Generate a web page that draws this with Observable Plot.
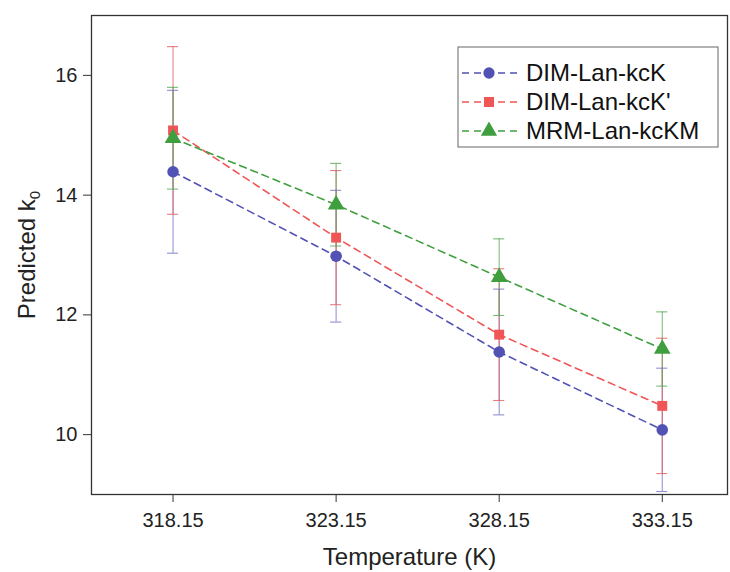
<!DOCTYPE html>
<html>
<head>
<meta charset="utf-8">
<script src="https://cdn.jsdelivr.net/npm/d3@7"></script>
<script src="https://cdn.jsdelivr.net/npm/@observablehq/plot@0.6"></script>
<style>
  html, body { margin: 0; padding: 0; background: #fff; }
  #chart { width: 730px; height: 572px; position: relative; }
</style>
</head>
<body>
<div id="chart"></div>
<script>
// ---- data ----
const temps = [318.15, 323.15, 328.15, 333.15];
const tickTemps = [318.15, 323.15, 328.15, 333.15];
const tickK = [10, 12, 14, 16];
const seriesNames = ["DIM-Lan-kcK", "DIM-Lan-kcK'", "MRM-Lan-kcKM"];
const dimK      = [14.39, 12.98, 11.38, 10.08];
const dimKErr   = [1.36, 1.10, 1.05, 1.03];
const dimKp     = [15.08, 13.29, 11.67, 10.48];
const dimKpErr  = [1.40, 1.12, 1.10, 1.13];
const mrm       = [14.95, 13.84, 12.63, 11.43];
const mrmErr    = [0.85, 0.69, 0.64, 0.62];

const seriesValues = [dimK, dimKp, mrm];
const seriesErrors = [dimKErr, dimKpErr, mrmErr];
const colors = ["#5252b4", "#f05656", "#3f9f3f"];
const errColors = ["#7272c4", "#e25c5c", "#55aa55"];

const rows = [];
seriesNames.forEach((s, i) => {
  temps.forEach((t, j) => {
    rows.push({series: s, idx: i, T: t, k: seriesValues[i][j], e: seriesErrors[i][j]});
  });
});

const capHalf = 0.17; // cap half-width in x units

const plot = Plot.plot({
  width: 730,
  height: 572,
  marginLeft: 91,
  marginRight: 3,
  marginTop: 15,
  marginBottom: 78,
  style: {fontFamily: "'Liberation Sans', Arial, sans-serif", fontSize: "20px", background: "#fff", color: "#222", overflow: "visible"},
  x: {domain: [315.65, 335.15]},
  y: {domain: [9, 17]},
  marks: [
    Plot.frame({stroke: "#333", strokeWidth: 1.3}),
    // error bars
    Plot.ruleX(rows, {x: "T", y1: d => d.k - d.e, y2: d => d.k + d.e, stroke: d => errColors[d.idx], strokeWidth: 1.1, strokeOpacity: 0.75}),
    Plot.ruleY(rows, {y: d => d.k + d.e, x1: d => d.T - capHalf, x2: d => d.T + capHalf, stroke: d => errColors[d.idx], strokeWidth: 1.1, strokeOpacity: 0.8}),
    Plot.ruleY(rows, {y: d => d.k - d.e, x1: d => d.T - capHalf, x2: d => d.T + capHalf, stroke: d => errColors[d.idx], strokeWidth: 1.1, strokeOpacity: 0.8}),
    // dashed lines
    Plot.line(rows, {x: "T", y: "k", z: "series", stroke: d => colors[d.idx], strokeWidth: 1.6, strokeDasharray: "7,5"}),
    // markers
    Plot.dot(rows.filter(d => d.idx === 0), {x: "T", y: "k", symbol: "circle", r: 5.8, fill: colors[0], stroke: "none"}),
    Plot.dot(rows.filter(d => d.idx === 1), {x: "T", y: "k", symbol: "square", r: 5.6, fill: colors[1], stroke: "none"}),
    Plot.dot(rows.filter(d => d.idx === 2), {x: "T", y: "k", symbol: "triangle", r: 6.2, fill: colors[2], stroke: "none"}),
    Plot.axisX({ticks: tickTemps, tickFormat: d => d.toFixed(2), tickSize: 8, tickPadding: 10, fontSize: 20, label: "Temperature (K)", labelAnchor: "center", labelOffset: 70, stroke: "#333"}),
    Plot.axisY({ticks: tickK, tickSize: 8, tickPadding: 6, fontSize: 20, label: "Predicted k0", labelAnchor: "center", labelOffset: 74, labelArrow: "none", stroke: "#333"})
  ]
});

document.getElementById("chart").appendChild(plot);

const svg = d3.select(plot);

// axis label styling + subscript
svg.selectAll("text").each(function() {
  const t = d3.select(this);
  const txt = this.textContent;
  if (txt.startsWith("Predicted k0") || txt.startsWith("Temperature")) {
    t.attr("font-size", 24);
  }
  if (txt.startsWith("Predicted k0")) {
    t.text("Predicted k");
    t.append("tspan").attr("font-size", 15).attr("dy", "0.35em").text("0");
  }
  if (txt.startsWith("Temperature")) {
    t.text("Temperature (K)");
  }
});

// legend
const lg = svg.append("g").attr("font-family", "'Liberation Sans', Arial, sans-serif").attr("text-anchor", "start");
lg.append("rect").attr("x", 458).attr("y", 47).attr("width", 260).attr("height", 100)
  .attr("fill", "#fff").attr("stroke", "#666").attr("stroke-width", 1);
const symGen = [d3.symbolCircle, d3.symbolSquare, d3.symbolTriangle];
const symSize = [100, 100, 115];
seriesNames.forEach((s, i) => {
  const cy = 73 + i * 29;
  lg.append("line").attr("x1", 462).attr("x2", 517).attr("y1", cy).attr("y2", cy)
    .attr("stroke", colors[i]).attr("stroke-width", 1.6).attr("stroke-dasharray", "7,5");
  lg.append("path").attr("d", d3.symbol(symGen[i], symSize[i])()).attr("transform", `translate(489,${cy})`)
    .attr("fill", colors[i]);
  lg.append("text").attr("x", 526).attr("y", cy).attr("dy", "0.35em").attr("font-size", 24)
    .attr("text-anchor", "start").attr("fill", "#111").text(s);
});
</script>
</body>
</html>
